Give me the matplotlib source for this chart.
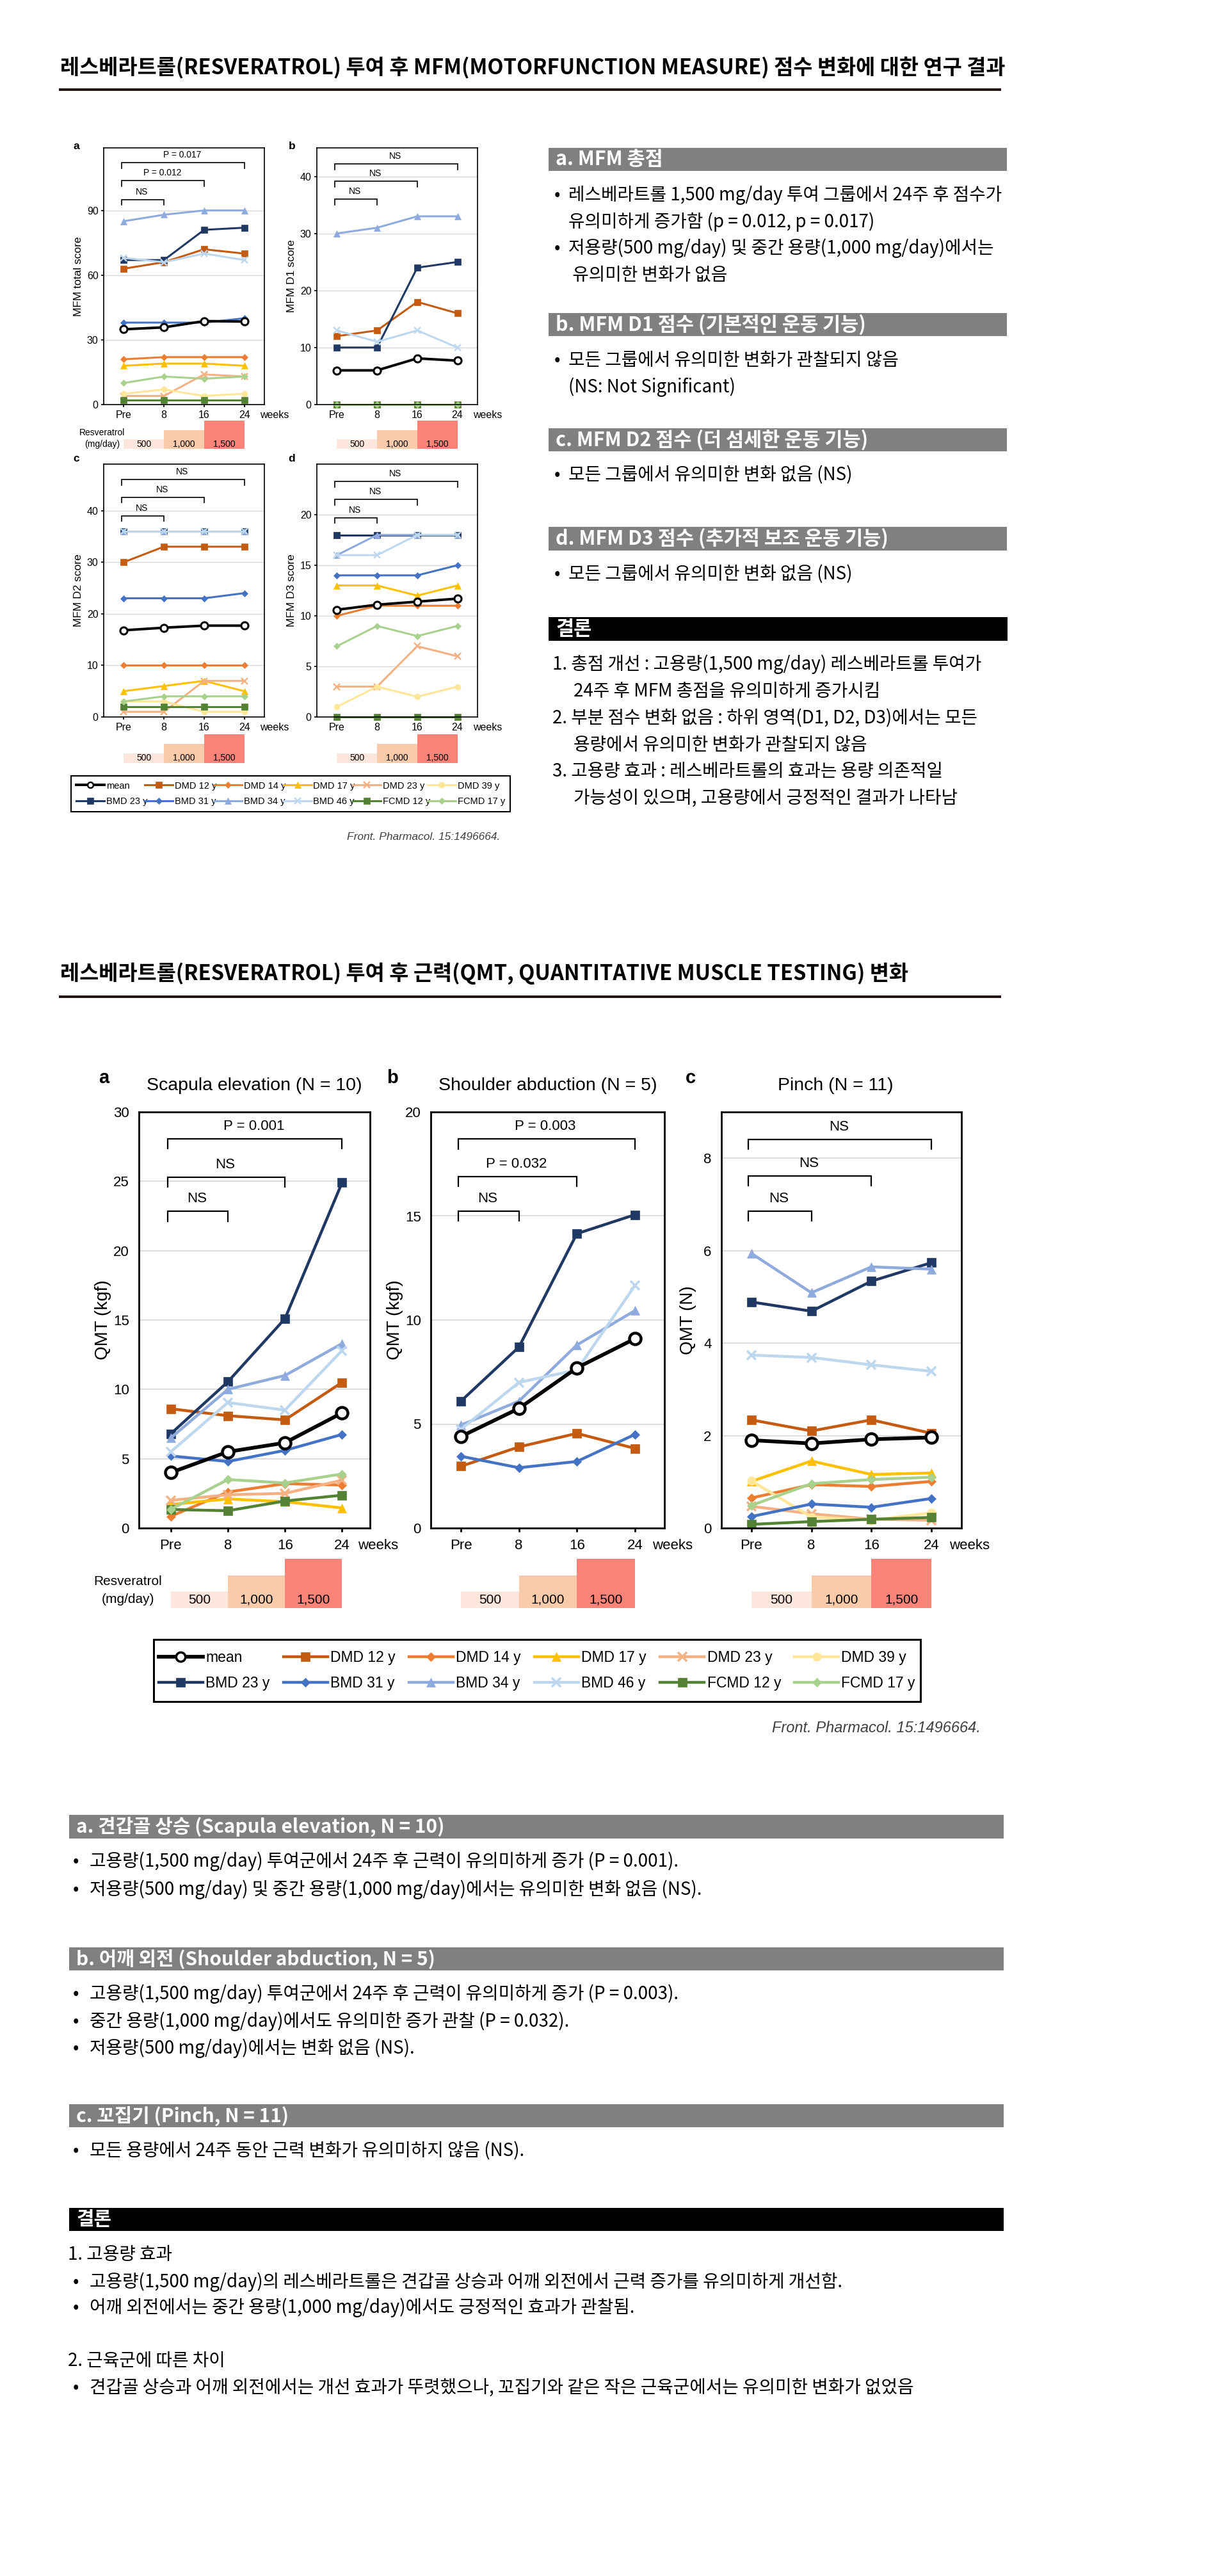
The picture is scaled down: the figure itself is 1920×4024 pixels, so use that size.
import numpy as np
import matplotlib.pyplot as plt
from matplotlib.patches import Rectangle
from matplotlib.lines import Line2D

plt.rcParams['font.family'] = ['Noto Sans CJK KR', 'DejaVu Sans']
CHART_FONT = ['Liberation Sans', 'DejaVu Sans']

W, H = 1920, 4024

# ---------------- data ----------------
weeks = ['Pre', '8', '16', '24']
doses = [500, 1000, 1500]
dose_labels = ['500', '1,000', '1,500']
dose_colors = ['#fde6dc', '#f9cbaa', '#fb8377']

subjects = ['DMD 12 y', 'DMD 14 y', 'DMD 17 y', 'DMD 23 y', 'DMD 39 y',
            'BMD 23 y', 'BMD 31 y', 'BMD 34 y', 'BMD 46 y', 'FCMD 12 y', 'FCMD 17 y']
colors = ['#c55a11', '#ed7d31', '#ffc000', '#f4b183', '#ffe699',
          '#203864', '#4472c4', '#8faadc', '#bdd7ee', '#548235', '#a9d18e']
markers = ['s', 'D', '^', 'x', 'o', 's', 'D', '^', 'x', 's', 'D']

# MFM (subject rows follow `subjects`)
mfm_total = [[63, 66, 72, 70], [21, 22, 22, 22], [18, 19, 19, 18], [4, 4, 14, 13],
             [5, 7, 4, 5], [67, 67, 81, 82], [38, 38, 38, 40], [85, 88, 90, 90],
             [68, 66, 70, 67], [2, 2, 2, 2], [10, 13, 12, 13]]
mfm_total_mean = [34.9, 35.8, 38.7, 38.5]

mfm_d1 = [[12, 13, 18, 16], [0, 0, 0, 0], [0, 0, 0, 0], [0, 0, 0, 0],
          [0, 0, 0, 0], [10, 10, 24, 25], [0, 0, 0, 0], [30, 31, 33, 33],
          [13, 11, 13, 10], [0, 0, 0, 0], [0, 0, 0, 0]]
mfm_d1_mean = [6.0, 6.0, 8.1, 7.7]

mfm_d2 = [[30, 33, 33, 33], [10, 10, 10, 10], [5, 6, 7, 5], [1, 1, 7, 7],
          [3, 3, 1, 1], [36, 36, 36, 36], [23, 23, 23, 24], [36, 36, 36, 36],
          [36, 36, 36, 36], [2, 2, 2, 2], [3, 4, 4, 4]]
mfm_d2_mean = [16.8, 17.3, 17.7, 17.7]

mfm_d3 = [[18, 18, 18, 18], [10, 11, 11, 11], [13, 13, 12, 13], [3, 3, 7, 6],
          [1, 3, 2, 3], [18, 18, 18, 18], [14, 14, 14, 15], [16, 18, 18, 18],
          [16, 16, 18, 18], [0, 0, 0, 0], [7, 9, 8, 9]]
mfm_d3_mean = [10.6, 11.1, 11.4, 11.7]

# QMT (None = subject not measured)
qmt_scapula = [[8.6, 8.1, 7.8, 10.5], [0.85, 2.6, 3.2, 3.1], [1.7, 2.1, 1.9, 1.45],
               [2.0, 2.4, 2.5, 3.45], None, [6.8, 10.55, 15.1, 24.9],
               [5.2, 4.8, 5.6, 6.75], [6.5, 10.0, 11.0, 13.3], [5.5, 9.05, 8.5, 12.8],
               [1.34, 1.25, 1.95, 2.37], [1.35, 3.5, 3.25, 3.9]]
qmt_scapula_mean = [4.0, 5.5, 6.15, 8.3]

qmt_shoulder = [[2.97, 3.9, 4.55, 3.83], None, None, None, None,
                [6.1, 8.7, 14.15, 15.06], [3.45, 2.9, 3.2, 4.5],
                [4.95, 6.1, 8.8, 10.45], [4.75, 7.0, 7.6, 11.65], None, None]
qmt_shoulder_mean = [4.4, 5.75, 7.7, 9.1]

qmt_pinch = [[2.34, 2.1, 2.34, 2.05], [0.65, 0.94, 0.9, 1.01], [1.01, 1.45, 1.16, 1.19],
             [0.47, 0.31, 0.19, 0.17], [1.02, 0.24, 0.17, 0.33], [4.89, 4.69, 5.34, 5.74],
             [0.25, 0.52, 0.45, 0.64], [5.94, 5.09, 5.65, 5.6], [3.74, 3.69, 3.53, 3.39],
             [0.08, 0.14, 0.19, 0.23], [0.49, 0.96, 1.05, 1.1]]
qmt_pinch_mean = [1.9, 1.83, 1.92, 1.96]

# significance brackets: (from, to, height, label)
mfm_total_sig = [(0, 1, 95.1, 'NS'), (0, 2, 103.8, 'P = 0.012'), (0, 3, 112.2, 'P = 0.017')]
mfm_d1_sig = [(0, 1, 36.0, 'NS'), (0, 2, 39.2, 'NS'), (0, 3, 42.2, 'NS')]
mfm_d2_sig = [(0, 1, 39.0, 'NS'), (0, 2, 42.6, 'NS'), (0, 3, 46.0, 'NS')]
mfm_d3_sig = [(0, 1, 19.7, 'NS'), (0, 2, 21.5, 'NS'), (0, 3, 23.3, 'NS')]
qmt_scapula_sig = [(0, 1, 22.85, 'NS'), (0, 2, 25.3, 'NS'), (0, 3, 28.07, 'P = 0.001')]
qmt_shoulder_sig = [(0, 1, 15.24, 'NS'), (0, 2, 16.9, 'P = 0.032'), (0, 3, 18.7, 'P = 0.003')]
qmt_pinch_sig = [(0, 1, 6.86, 'NS'), (0, 2, 7.62, 'NS'), (0, 3, 8.41, 'NS')]

# ---------------- figure ----------------
fig = plt.figure(figsize=(W / 100, H / 100), dpi=100)
bg = fig.add_axes([0, 0, 1, 1])
bg.set_xlim(0, W)
bg.set_ylim(H, 0)
bg.axis('off')


def px_axes(x0, y0, x1, y1):
    return fig.add_axes([x0 / W, 1 - y1 / H, (x1 - x0) / W, (y1 - y0) / H])


MFM = dict(lw=2.2, ms=6.5, mean_ms=8, mean_mew=2.2, spine=1.2, grid=1.0, br_lw=1.2,
           br_fs=10, drop=0.022, tick_fs=11.5, label_fs=12.5, weeks_dx=-5, xpad=3.5,
           xlen=3, ylen=3, ypad=3, labelpad=4, dose_fs=10)
QMT = dict(lw=3.2, ms=9.5, mean_ms=13, mean_mew=3.2, spine=2.0, grid=1.3, br_lw=1.6,
           br_fs=16, drop=0.024, tick_fs=16, label_fs=20, weeks_dx=-14, xpad=8,
           xlen=4, ylen=0, ypad=11, labelpad=2, dose_fs=15)

# text sizes for the Korean notes
T_HEAD = 22
T_BODY = 20
T_TITLE = 23.6


def chart(box, rows, mean, ylim, yticks, xlim, sig, ylabel, s):
    ax = px_axes(*box)
    x = np.arange(len(weeks))
    for vals, c, m in zip(rows, colors, markers):
        if vals is None:
            continue
        ms = s['ms'] * {'D': 0.8, 'x': 1.05}.get(m, 1.0)
        ax.plot(x, vals, color=c, lw=s['lw'], marker=m, ms=ms, mfc=c, mec=c,
                mew=s['lw'] * 0.8 if m == 'x' else 0.5, clip_on=False)
    ax.plot(x, mean, color='black', lw=s['lw'] * 1.3, marker='o', ms=s['mean_ms'],
            mfc='white', mec='black', mew=s['mean_mew'], zorder=5, clip_on=False)
    ax.set_xlim(*xlim)
    ax.set_ylim(*ylim)
    ax.set_xticks(x, weeks)
    ax.set_yticks(yticks)
    ax.yaxis.grid(True, color='#d9d9d9', lw=s['grid'])
    ax.set_axisbelow(True)
    for sp in ax.spines.values():
        sp.set_linewidth(s['spine'])
    ax.tick_params(axis='x', length=s['xlen'], width=s['spine'], pad=s['xpad'],
                   labelsize=s['tick_fs'])
    ax.tick_params(axis='y', length=s['ylen'], width=s['spine'], pad=s['ypad'],
                   labelsize=s['tick_fs'])
    for t in ax.get_xticklabels() + ax.get_yticklabels():
        t.set_family(CHART_FONT)
    ax.set_ylabel(ylabel, fontsize=s['label_fs'], family=CHART_FONT, labelpad=s['labelpad'])
    ax.annotate('weeks', xy=(1, 0), xycoords='axes fraction',
                xytext=(s['weeks_dx'], -(s['xlen'] + s['xpad'])), textcoords='offset points',
                ha='left', va='top', fontsize=s['tick_fs'], family=CHART_FONT)
    span = ylim[1] - ylim[0]
    for a, b, yb, lab in sig:
        ax.plot([a - 0.05, a - 0.05, b, b], [yb - span * s['drop'], yb, yb, yb - span * s['drop']],
                color='black', lw=s['br_lw'], solid_joinstyle='miter')
        ax.text((a - 0.05 + b) / 2 - 0.02, yb + span * 0.03, lab, ha='center', va='center',
                fontsize=s['br_fs'], family=CHART_FONT)
    return ax


def dose_bar(box, xlim, s):
    ax = px_axes(*box)
    ax.bar(np.arange(len(doses)) + 0.5, doses, width=1.0, color=dose_colors, lw=0)
    ax.set_xlim(*xlim)
    ax.set_ylim(0, max(doses))
    ax.axis('off')
    for i, lab in enumerate(dose_labels):
        ax.text(i + 0.5, doses[0] / 2, lab, ha='center', va='center',
                fontsize=s['dose_fs'], family=CHART_FONT)
    return ax


def legend_box(x0, y0, x1, y1, fs, s, box_lw):
    bg.add_patch(Rectangle((x0, y0), x1 - x0, y1 - y0, fill=False, ec='black', lw=box_lw))
    entries = [Line2D([], [], color='black', lw=s['lw'] * 1.3, marker='o', ms=s['mean_ms'] * 0.8,
                      mfc='white', mec='black', mew=s['mean_mew'] * 0.8)]
    for c, m in zip(colors, markers):
        entries.append(Line2D([], [], color=c, lw=s['lw'], marker=m,
                              ms=s['ms'] * (0.8 if m == 'D' else 1.0), mfc=c, mec=c,
                              mew=s['lw'] * 0.8 if m == 'x' else 0.5))
    labels = ['mean'] + subjects
    hs, ls = [], []
    for i in range(6):
        for j in (i, i + 6):
            hs.append(entries[j])
            ls.append(labels[j])
    fig.legend(hs, ls, loc='center', ncol=6, mode='expand', frameon=False,
               bbox_to_anchor=((x0 + 8) / W, 1 - y1 / H, (x1 - x0 - 16) / W, (y1 - y0) / H),
               prop={'family': CHART_FONT, 'size': fs}, handlelength=3.0,
               handletextpad=0.2, labelspacing=0.75, borderaxespad=0, borderpad=0)


def header(x0, x1, y0, y1, text, color, fs, tx):
    bg.add_patch(Rectangle((x0, y0), x1 - x0, y1 - y0, color=color, lw=0))
    bg.text(tx, (y0 + y1) / 2, text, color='white', fontsize=fs, fontweight='bold',
            va='center', ha='left')


def lines(items, fs, bx, tx):
    for y, bullet, text in items:
        if bullet:
            bg.text(bx, y, '•', fontsize=fs, va='center', ha='left')
        bg.text(tx, y, text, fontsize=fs, va='center', ha='left')


# ---------------- section 1: MFM ----------------
bg.text(94, 106, '레스베라트롤(RESVERATROL) 투여 후 MFM(MOTORFUNCTION MEASURE) 점수 변화에 대한 연구 결과',
        fontsize=T_TITLE, fontweight='bold', va='center')
bg.plot([94, 1562], [140, 140], color='#231815', lw=2.9)

mx = (-0.5, 3.5)
chart((162, 231, 413, 632), mfm_total, mfm_total_mean, (0, 119), [0, 30, 60, 90], mx,
      mfm_total_sig, 'MFM total score', MFM)
chart((495, 231, 746, 632), mfm_d1, mfm_d1_mean, (0, 45), [0, 10, 20, 30, 40], mx,
      mfm_d1_sig, 'MFM D1 score', MFM)
chart((162, 725, 413, 1120), mfm_d2, mfm_d2_mean, (0, 49), [0, 10, 20, 30, 40], mx,
      mfm_d2_sig, 'MFM D2 score', MFM)
chart((495, 725, 746, 1120), mfm_d3, mfm_d3_mean, (0, 25), [0, 5, 10, 15, 20], mx,
      mfm_d3_sig, 'MFM D3 score', MFM)
for bx in [(162, 657, 413, 701), (495, 657, 746, 701), (162, 1147, 413, 1192), (495, 1147, 746, 1192)]:
    dose_bar(bx, mx, MFM)
bg.text(160, 676, 'Resveratrol', fontsize=10, family=CHART_FONT, ha='center', va='center')
bg.text(160, 694, '(mg/day)', fontsize=10, family=CHART_FONT, ha='center', va='center')
for lab, x, y in [('a', 119, 228), ('b', 456, 228), ('c', 119, 716), ('d', 456, 716)]:
    bg.text(x, y, lab, fontsize=12.5, fontweight='bold', family=CHART_FONT, ha='center', va='center')

legend_box(111, 1212, 797, 1268, 10.5, MFM, 1.5)
bg.text(781, 1307, 'Front. Pharmacol. 15:1496664.', fontsize=12.5, style='italic',
        family=CHART_FONT, color='#404040', ha='right', va='center')

GRAY = '#808080'
header(857, 1573, 231, 267, 'a. MFM 총점', GRAY, T_HEAD, 868)
lines([(305, True, '레스베라트롤 1,500 mg/day 투여 그룹에서 24주 후 점수가'),
       (347, False, '유의미하게 증가함 (p = 0.012, p = 0.017)'),
       (388, True, '저용량(500 mg/day) 및 중간 용량(1,000 mg/day)에서는'),
       (430, False, ' 유의미한 변화가 없음')], T_BODY, 866, 888)
header(857, 1573, 489, 525, 'b. MFM D1 점수 (기본적인 운동 기능)', GRAY, T_HEAD, 868)
lines([(563, True, '모든 그룹에서 유의미한 변화가 관찰되지 않음'),
       (605, False, '(NS: Not Significant)')], T_BODY, 866, 888)
header(857, 1573, 669, 705, 'c. MFM D2 점수 (더 섬세한 운동 기능)', GRAY, T_HEAD, 868)
lines([(742, True, '모든 그룹에서 유의미한 변화 없음 (NS)')], T_BODY, 866, 888)
header(857, 1573, 823, 860, 'd. MFM D3 점수 (추가적 보조 운동 기능)', GRAY, T_HEAD, 868)
lines([(897, True, '모든 그룹에서 유의미한 변화 없음 (NS)')], T_BODY, 866, 888)
header(857, 1574, 964, 1001, '결론', 'black', T_HEAD, 868)
lines([(1038, False, '1. 총점 개선 : 고용량(1,500 mg/day) 레스베라트롤 투여가')], T_BODY, 863, 863)
lines([(1080, False, '24주 후 MFM 총점을 유의미하게 증가시킴')], T_BODY, 896, 896)
lines([(1122, False, '2. 부분 점수 변화 없음 : 하위 영역(D1, D2, D3)에서는 모든')], T_BODY, 863, 863)
lines([(1164, False, '용량에서 유의미한 변화가 관찰되지 않음')], T_BODY, 896, 896)
lines([(1205, False, '3. 고용량 효과 : 레스베라트롤의 효과는 용량 의존적일')], T_BODY, 863, 863)
lines([(1247, False, '가능성이 있으며, 고용량에서 긍정적인 결과가 나타남')], T_BODY, 896, 896)

# ---------------- section 2: QMT ----------------
bg.text(94, 1521, '레스베라트롤(RESVERATROL) 투여 후 근력(QMT, QUANTITATIVE MUSCLE TESTING) 변화',
        fontsize=T_TITLE, fontweight='bold', va='center')
bg.plot([94, 1562], [1557, 1557], color='#231815', lw=2.9)

xa, xb, xc = (-0.56, 3.49), (-0.52, 3.51), (-0.5, 3.5)
ax_a = chart((217, 1737, 578, 2387), qmt_scapula, qmt_scapula_mean, (0, 30), [0, 5, 10, 15, 20, 25, 30],
             xa, qmt_scapula_sig, 'QMT (kgf)', QMT)
ax_b = chart((673, 1737, 1038, 2387), qmt_shoulder, qmt_shoulder_mean, (0, 20), [0, 5, 10, 15, 20],
             xb, qmt_shoulder_sig, 'QMT (kgf)', QMT)
ax_c = chart((1127, 1737, 1502, 2387), qmt_pinch, qmt_pinch_mean, (0, 9), [0, 2, 4, 6, 8],
             xc, qmt_pinch_sig, 'QMT (N)', QMT)
ax_c.yaxis.labelpad = 8
for ax, title, tx in [(ax_a, 'Scapula elevation (N = 10)', 0.5),
                      (ax_b, 'Shoulder abduction (N = 5)', 0.5),
                      (ax_c, 'Pinch (N = 11)', 0.475)]:
    ax.text(tx, 1.063, title, transform=ax.transAxes, ha='center', va='center',
            fontsize=20.5, family=CHART_FONT)
for lab, x in [('a', 162), ('b', 613), ('c', 1079)]:
    bg.text(x, 1684, lab, fontsize=21, fontweight='bold', family=CHART_FONT, ha='center', va='center')
dose_bar((217, 2435, 578, 2512), xa, QMT)
dose_bar((673, 2435, 1038, 2512), xb, QMT)
dose_bar((1127, 2435, 1502, 2512), xc, QMT)
bg.text(200, 2470, 'Resveratrol', fontsize=15, family=CHART_FONT, ha='center', va='center')
bg.text(200, 2499, '(mg/day)', fontsize=15, family=CHART_FONT, ha='center', va='center')

legend_box(240, 2561, 1438, 2658, 16.5, QMT, 2.2)
bg.text(1532, 2700, 'Front. Pharmacol. 15:1496664.', fontsize=17, style='italic',
        family=CHART_FONT, color='#404040', ha='right', va='center')

S2_HEAD = 21.5
header(108, 1568, 2835, 2872, 'a. 견갑골 상승 (Scapula elevation, N = 10)', GRAY, S2_HEAD, 119)
lines([(2908, True, '고용량(1,500 mg/day) 투여군에서 24주 후 근력이 유의미하게 증가 (P = 0.001).'),
       (2952, True, '저용량(500 mg/day) 및 중간 용량(1,000 mg/day)에서는 유의미한 변화 없음 (NS).')],
      T_BODY, 114, 140)
header(108, 1568, 3042, 3078, 'b. 어깨 외전 (Shoulder abduction, N = 5)', GRAY, S2_HEAD, 119)
lines([(3115, True, '고용량(1,500 mg/day) 투여군에서 24주 후 근력이 유의미하게 증가 (P = 0.003).'),
       (3158, True, '중간 용량(1,000 mg/day)에서도 유의미한 증가 관찰 (P = 0.032).'),
       (3200, True, '저용량(500 mg/day)에서는 변화 없음 (NS).')], T_BODY, 114, 140)
header(108, 1568, 3287, 3323, 'c. 꼬집기 (Pinch, N = 11)', GRAY, S2_HEAD, 119)
lines([(3360, True, '모든 용량에서 24주 동안 근력 변화가 유의미하지 않음 (NS).')], T_BODY, 114, 140)
header(108, 1568, 3449, 3485, '결론', 'black', S2_HEAD, 119)
lines([(3522, False, '1. 고용량 효과')], T_BODY, 106, 106)
lines([(3565, True, '고용량(1,500 mg/day)의 레스베라트롤은 견갑골 상승과 어깨 외전에서 근력 증가를 유의미하게 개선함.'),
       (3605, True, '어깨 외전에서는 중간 용량(1,000 mg/day)에서도 긍정적인 효과가 관찰됨.')], T_BODY, 114, 140)
lines([(3688, False, '2. 근육군에 따른 차이')], T_BODY, 106, 106)
lines([(3730, True, '견갑골 상승과 어깨 외전에서는 개선 효과가 뚜렷했으나, 꼬집기와 같은 작은 근육군에서는 유의미한 변화가 없었음')],
      T_BODY, 114, 140)

fig.savefig('out.png', dpi=100, facecolor='white')
